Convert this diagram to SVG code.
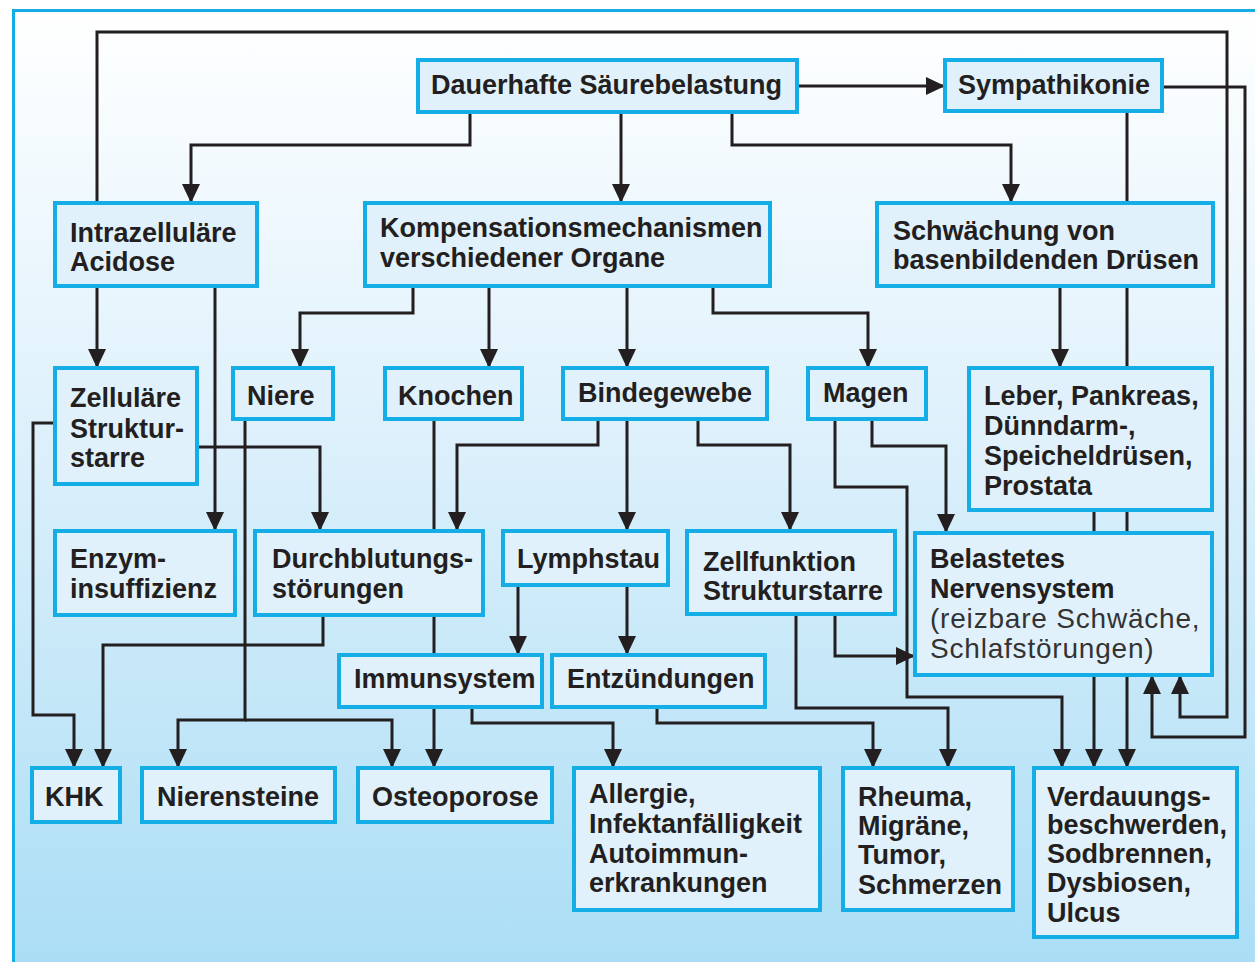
<svg xmlns="http://www.w3.org/2000/svg" width="1255" height="962" viewBox="0 0 1255 962">
<defs>
<linearGradient id="bg" x1="0" y1="0" x2="0" y2="1">
<stop offset="0" stop-color="#ffffff"/>
<stop offset="0.45" stop-color="#dcf0fb"/>
<stop offset="1" stop-color="#a9ddf5"/>
</linearGradient>
<marker id="ah" markerUnits="userSpaceOnUse" markerWidth="19" markerHeight="18" viewBox="0 0 19 18" refX="19" refY="9" orient="auto">
<path d="M0,0 L19,9 L0,18 z" fill="#231f20"/>
</marker>
<style>
.n rect{fill:#e0f1fb;stroke:#14ade6;stroke-width:4}
.n text{font-family:"Liberation Sans",Arial,sans-serif;font-weight:bold;font-size:27px;fill:#231f20}
.n text.l{font-weight:normal;font-size:28px;letter-spacing:0.8px;fill:#333}
.c path{fill:none;stroke:#231f20;stroke-width:3}
.c path.a{marker-end:url(#ah)}
</style>
</defs>
<rect x="0" y="0" width="1255" height="962" fill="#ffffff"/>
<rect x="13.5" y="10.5" width="1260" height="970" fill="url(#bg)" stroke="#14ade6" stroke-width="3"/>
<g id="connectors" class="c">
<path class="a" d="M97,203 V32 H1227 V717 H1180 V675"/>
<path class="a" d="M1162,87 H1245 V737 H1152 V675"/>
<path class="a" d="M797,86 H945"/>
<path class="a" d="M470,112 V145 H191 V203"/>
<path class="a" d="M621,112 V203"/>
<path class="a" d="M732,112 V145 H1011 V203"/>
<path class="a" d="M1127,111 V768"/>
<path class="a" d="M1060,286 V368"/>
<path class="a" d="M1094,510 V768"/>
<path class="a" d="M835,419 V487 H907 V697 H1062 V768"/>
<path class="a" d="M872,419 V446 H946 V533"/>
<path class="a" d="M835,614 V656 H915"/>
<path class="a" d="M796,614 V708 H948 V768"/>
<path class="a" d="M657,707 V723 H873 V768"/>
<path class="a" d="M472,707 V723 H613 V768"/>
<path class="a" d="M434,419 V768"/>
<path class="a" d="M245,419 V720 H178 V768"/>
<path class="a" d="M245,720 H392 V768"/>
<path class="a" d="M55,423 H33 V715 H74 V768"/>
<path class="a" d="M323,615 V645 H103 V768"/>
<path class="a" d="M197,447 H320 V531"/>
<path class="a" d="M97,286 V368"/>
<path class="a" d="M215,286 V531"/>
<path class="a" d="M413,286 V313 H300 V368"/>
<path class="a" d="M489,286 V368"/>
<path class="a" d="M627,286 V368"/>
<path class="a" d="M713,286 V313 H868 V368"/>
<path class="a" d="M598,419 V445 H457 V531"/>
<path class="a" d="M627,419 V531"/>
<path class="a" d="M698,419 V445 H790 V531"/>
<path class="a" d="M518,585 V655"/>
<path class="a" d="M627,585 V655"/>
</g>
<g id="n-dauerhafte" class="n"><rect x="418" y="60" width="379" height="52"/><text x="431" y="94">Dauerhafte Säurebelastung</text></g>
<g id="n-sympathikonie" class="n"><rect x="945" y="60" width="217" height="51"/><text x="958" y="94">Sympathikonie</text></g>
<g id="n-intrazellulaere" class="n"><rect x="55" y="203" width="202" height="83"/><text x="70" y="242">Intrazelluläre</text><text x="70" y="271">Acidose</text></g>
<g id="n-kompensation" class="n"><rect x="365" y="203" width="405" height="83"/><text x="380" y="237">Kompensationsmechanismen</text><text x="380" y="267">verschiedener Organe</text></g>
<g id="n-schwaechung" class="n"><rect x="877" y="203" width="336" height="83"/><text x="893" y="240">Schwächung von</text><text x="893" y="269">basenbildenden Drüsen</text></g>
<g id="n-zellulaere" class="n"><rect x="55" y="368" width="142" height="116"/><text x="70" y="407">Zelluläre</text><text x="70" y="438">Struktur-</text><text x="70" y="467">starre</text></g>
<g id="n-niere" class="n"><rect x="233" y="368" width="100" height="51"/><text x="247" y="405">Niere</text></g>
<g id="n-knochen" class="n"><rect x="385" y="368" width="137" height="51"/><text x="398" y="405">Knochen</text></g>
<g id="n-bindegewebe" class="n"><rect x="563" y="368" width="204" height="51"/><text x="578" y="402">Bindegewebe</text></g>
<g id="n-magen" class="n"><rect x="808" y="368" width="118" height="51"/><text x="823" y="402">Magen</text></g>
<g id="n-leber" class="n"><rect x="969" y="368" width="243" height="142"/><text x="984" y="405">Leber, Pankreas,</text><text x="984" y="435">Dünndarm-,</text><text x="984" y="465">Speicheldrüsen,</text><text x="984" y="495">Prostata</text></g>
<g id="n-enzym" class="n"><rect x="55" y="531" width="180" height="84"/><text x="70" y="568">Enzym-</text><text x="70" y="598">insuffizienz</text></g>
<g id="n-durchblutung" class="n"><rect x="255" y="531" width="228" height="84"/><text x="272" y="568">Durchblutungs-</text><text x="272" y="598">störungen</text></g>
<g id="n-lymphstau" class="n"><rect x="503" y="531" width="165" height="54"/><text x="517" y="568">Lymphstau</text></g>
<g id="n-zellfunktion" class="n"><rect x="687" y="531" width="208" height="83"/><text x="703" y="571">Zellfunktion</text><text x="703" y="600">Strukturstarre</text></g>
<g id="n-nervensystem" class="n"><rect x="915" y="533" width="297" height="142"/><text x="930" y="568">Belastetes</text><text x="930" y="598">Nervensystem</text><text class="l" x="930" y="628">(reizbare Schwäche,</text><text class="l" x="930" y="658">Schlafstörungen)</text></g>
<g id="n-immunsystem" class="n"><rect x="339" y="655" width="203" height="52"/><text x="354" y="688">Immunsystem</text></g>
<g id="n-entzuendungen" class="n"><rect x="552" y="655" width="213" height="52"/><text x="567" y="688">Entzündungen</text></g>
<g id="n-khk" class="n"><rect x="32" y="768" width="88" height="54"/><text x="45" y="806">KHK</text></g>
<g id="n-nierensteine" class="n"><rect x="142" y="768" width="193" height="54"/><text x="157" y="806">Nierensteine</text></g>
<g id="n-osteoporose" class="n"><rect x="358" y="768" width="194" height="54"/><text x="372" y="806">Osteoporose</text></g>
<g id="n-allergie" class="n"><rect x="574" y="768" width="246" height="142"/><text x="589" y="803">Allergie,</text><text x="589" y="833">Infektanfälligkeit</text><text x="589" y="863">Autoimmun-</text><text x="589" y="892">erkrankungen</text></g>
<g id="n-rheuma" class="n"><rect x="843" y="768" width="170" height="142"/><text x="858" y="806">Rheuma,</text><text x="858" y="835">Migräne,</text><text x="858" y="864">Tumor,</text><text x="858" y="894">Schmerzen</text></g>
<g id="n-verdauung" class="n"><rect x="1034" y="768" width="203" height="169"/><text x="1047" y="806">Verdauungs-</text><text x="1047" y="834">beschwerden,</text><text x="1047" y="863">Sodbrennen,</text><text x="1047" y="892">Dysbiosen,</text><text x="1047" y="922">Ulcus</text></g>
</svg>
